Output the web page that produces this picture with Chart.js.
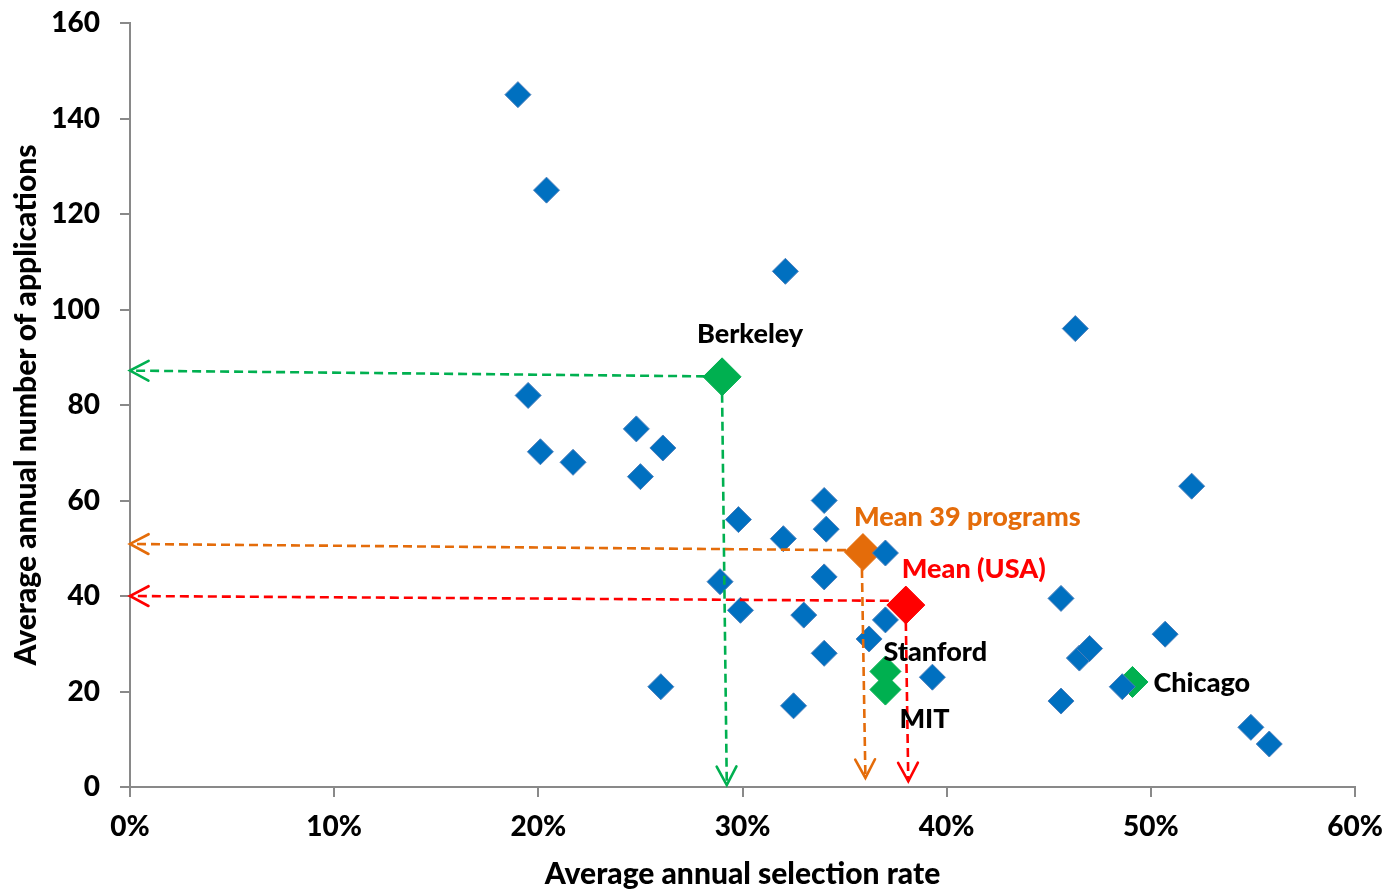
<!DOCTYPE html>
<html>
<head>
<meta charset="utf-8">
<title>Selection rate vs applications</title>
<script src="https://cdn.jsdelivr.net/npm/chart.js@4.4.1/dist/chart.umd.min.js"></script>
<style>
  html, body { margin: 0; padding: 0; background: #fff; }
  #wrap { width: 1387px; height: 889px; }
</style>
</head>
<body>
<div id="wrap"><canvas id="selectionChart" width="1387" height="889"></canvas></div>
<script>
// programs (blue diamonds): average selection rate and average applications
const programRate = [0.190, 0.204, 0.321, 0.463, 0.195, 0.201, 0.217, 0.248, 0.261, 0.250,
                     0.298, 0.289, 0.299, 0.260, 0.320, 0.340, 0.341, 0.340, 0.330, 0.340,
                     0.325, 0.370, 0.370, 0.362, 0.393, 0.456, 0.456, 0.465, 0.470, 0.507,
                     0.520, 0.486, 0.549, 0.558];
const programApps = [145, 125, 108, 96, 82, 70.2, 68, 75, 71, 65,
                     56, 43, 37, 21, 52, 60, 54, 44, 36, 28,
                     17, 49, 35, 31, 23, 39.5, 18, 27, 29, 32,
                     63, 21, 12.5, 9];

// highlighted programs (green)
const highlightNames = ['Berkeley', 'Stanford', 'MIT', 'Chicago'];
const highlightRate = [0.290, 0.370, 0.370, 0.491];
const highlightApps = [85.9, 24.2, 20.4, 22.0];

// means
const meanNames = ['Mean 39 programs', 'Mean (USA)'];
const meanRate = [0.359, 0.380];
const meanApps = [49.2, 38.1];

// dashed arrows: Berkeley, mean 39 programs, mean USA
const arrowColors = ['#00B050', '#E46C0A', '#FF0000'];
const arrowStartApps = [86.0, 49.6, 39.0];   // horizontal arrows leave the marker here
const arrowEndApps = [87.2, 50.9, 40.0];     // ... and point at the y axis here
const arrowStartRate = [0.2900, 0.3585, 0.3800]; // vertical arrows leave the marker here
const arrowEndRate = [0.2923, 0.3602, 0.3812];   // ... and point down to the x axis here
const arrowTipApps = [0.4, 1.9, 1.2];

const xTicks = [0, 0.1, 0.2, 0.3, 0.4, 0.5, 0.6];
const xTickLabels = ['0%', '10%', '20%', '30%', '40%', '50%', '60%'];
const yTicks = [0, 20, 40, 60, 80, 100, 120, 140, 160];

const toPoints = (xs, ys) => xs.map((v, i) => ({ x: v, y: ys[i] }));

const heavy = 900;
Chart.defaults.font.family = 'Lato';
Chart.defaults.font.weight = heavy;
Chart.defaults.color = '#000';

function drawArrow(ctx, x1, y1, x2, y2, color) {
    ctx.save();
    ctx.strokeStyle = color;
    ctx.lineWidth = 2.6;
    ctx.setLineDash([9, 5]);
    ctx.beginPath();
    ctx.moveTo(x1, y1);
    ctx.lineTo(x2, y2);
    ctx.stroke();

    // open arrow head
    const ang = Math.atan2(y2 - y1, x2 - x1);
    const len = 21;
    const spread = 0.49;
    ctx.setLineDash([]);
    ctx.lineCap = 'round';
    ctx.beginPath();
    ctx.moveTo(x2 - len * Math.cos(ang - spread), y2 - len * Math.sin(ang - spread));
    ctx.lineTo(x2, y2);
    ctx.lineTo(x2 - len * Math.cos(ang + spread), y2 - len * Math.sin(ang + spread));
    ctx.stroke();
    ctx.restore();
}

const arrowPlugin = {
    id: 'arrows',
    afterDatasetsDraw(chart) {
        const { ctx, scales: { x, y } } = chart;
        const markerR = [19, 19, 19];
        arrowColors.forEach((color, i) => {
            const mx = x.getPixelForValue(i === 0 ? highlightRate[0] : meanRate[i - 1]);
            const my = y.getPixelForValue(i === 0 ? highlightApps[0] : meanApps[i - 1]);
            // horizontal one to the y axis
            drawArrow(ctx, mx - markerR[i] + 2, y.getPixelForValue(arrowStartApps[i]),
                x.getPixelForValue(0), y.getPixelForValue(arrowEndApps[i]), color);
            // vertical one to the x axis
            drawArrow(ctx, x.getPixelForValue(arrowStartRate[i]), my + markerR[i] - 2,
                x.getPixelForValue(arrowEndRate[i]), y.getPixelForValue(arrowTipApps[i]), color);
        });
    }
};

const labelPlugin = {
    id: 'pointLabels',
    afterDraw(chart) {
        const { ctx, scales: { x, y } } = chart;
        const put = (text, rate, apps, dx, dy, color, align) => {
            ctx.save();
            ctx.font = heavy + ' 27px Lato';
            ctx.fillStyle = color;
            ctx.textAlign = align;
            ctx.textBaseline = 'middle';
            ctx.fillText(text, x.getPixelForValue(rate) + dx, y.getPixelForValue(apps) + dy);
            ctx.restore();
        };
        put(highlightNames[0], highlightRate[0], highlightApps[0], 28, -43, '#000', 'center');
        put(highlightNames[1], highlightRate[1], highlightApps[1], -2, -19, '#000', 'left');
        put(highlightNames[2], highlightRate[2], highlightApps[2], 14, 30, '#000', 'left');
        put(highlightNames[3], highlightRate[3], highlightApps[3], 21, 1, '#000', 'left');
        put(meanNames[0], meanRate[0], meanApps[0], -9, -35, '#E46C0A', 'left');
        put(meanNames[1], meanRate[1], meanApps[1], -4, -36, '#FF0000', 'left');
    }
};

// keep the plot box where the reference has it, whatever the tick labels need
const noLabelPadding = (s) => {
    s.paddingTop = 0;
    s.paddingBottom = 0;
    s.paddingLeft = 0;
    s.paddingRight = 0;
};

const axisGrey = '#898989';

new Chart(document.getElementById('selectionChart'), {
    type: 'scatter',
    data: {
        datasets: [
            {
                label: 'Programs',
                data: toPoints(programRate, programApps),
                pointStyle: 'rectRot',
                pointRadius: 13,
                backgroundColor: '#0070C0',
                borderColor: '#4A7EBB',
                borderWidth: 1,
            },
            {
                label: 'Highlighted',
                data: toPoints(highlightRate, highlightApps),
                pointStyle: 'rectRot',
                pointRadius: (c) => (c.dataIndex === 0 ? 19 : 15.5),
                backgroundColor: '#00B050',
                borderColor: '#00B050',
                borderWidth: 1,
            },
            {
                label: 'Mean 39 programs',
                data: toPoints([meanRate[0]], [meanApps[0]]),
                pointStyle: 'rectRot',
                pointRadius: 18.5,
                backgroundColor: '#E46C0A',
                borderColor: '#E46C0A',
                borderWidth: 1,
            },
            {
                label: 'Mean (USA)',
                data: toPoints([meanRate[1]], [meanApps[1]]),
                pointStyle: 'rectRot',
                pointRadius: 19,
                backgroundColor: '#FF0000',
                borderColor: '#FF0000',
                borderWidth: 1,
            },
        ],
    },
    options: {
        responsive: false,
        animation: false,
        devicePixelRatio: 1,
        layout: { padding: { top: 23, right: 32, bottom: 0, left: 0 } },
        plugins: {
            legend: { display: false },
            tooltip: { enabled: false },
        },
        scales: {
            x: {
                type: 'linear',
                min: 0,
                max: 0.6,
                afterFit: (s) => { s.height = 102; noLabelPadding(s); },
                afterBuildTicks: (s) => { s.ticks = xTicks.map(v => ({ value: v })); },
                ticks: {
                    callback: (v, i) => xTickLabels[i],
                    font: { size: 28, weight: heavy },
                    color: '#000',
                    padding: 13,
                    maxRotation: 0,
                },
                grid: { drawOnChartArea: false, drawTicks: true, tickLength: 10, color: axisGrey, lineWidth: 2 },
                border: { color: axisGrey, width: 2 },
                title: {
                    display: true,
                    text: 'Average annual selection rate',
                    font: { size: 30, weight: heavy, lineHeight: 1 },
                    color: '#000',
                    padding: { top: 0, bottom: 0 },
                },
            },
            y: {
                type: 'linear',
                min: 0,
                max: 160,
                afterFit: (s) => { s.width = 130; noLabelPadding(s); },
                afterBuildTicks: (s) => { s.ticks = yTicks.map(v => ({ value: v })); },
                ticks: {
                    font: { size: 28, weight: heavy },
                    color: '#000',
                    padding: 20,
                },
                grid: { drawOnChartArea: false, drawTicks: true, tickLength: 10, color: axisGrey, lineWidth: 2 },
                border: { color: axisGrey, width: 2 },
                title: {
                    display: true,
                    text: 'Average annual number of applications',
                    font: { size: 30, weight: heavy, lineHeight: 1 },
                    color: '#000',
                    padding: { top: 11, bottom: 0 },
                },
            },
        },
    },
    plugins: [arrowPlugin, labelPlugin],
});
</script>
</body>
</html>
